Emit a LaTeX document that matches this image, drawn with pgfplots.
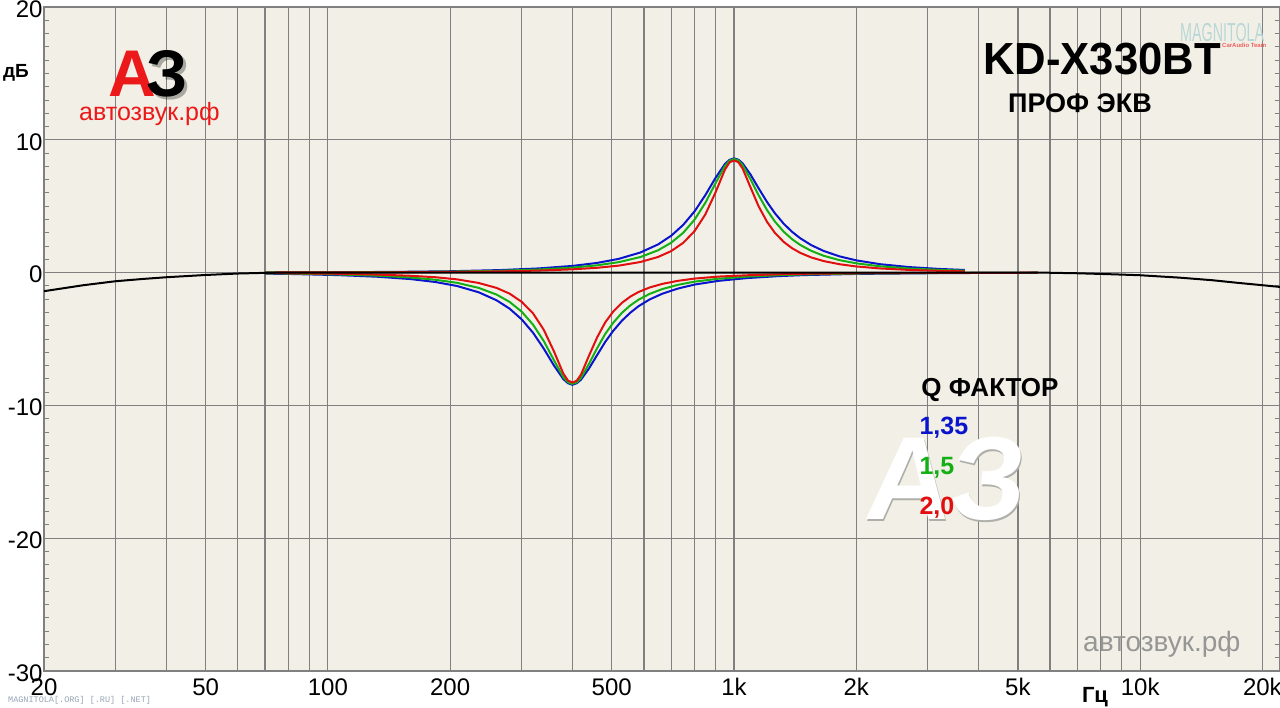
\documentclass[border=0pt]{standalone}
\usepackage{fontspec}
\setmainfont{Liberation Sans}
\newfontfamily\monofont{Liberation Mono}
\usepackage{graphicx}
\usepackage{pgfplots}
\pgfplotsset{compat=1.18}
\definecolor{bgbeige}{RGB}{242,240,230}
\definecolor{gridgray}{RGB}{128,128,128}
\definecolor{cblue}{RGB}{10,20,205}
\definecolor{cgreen}{RGB}{20,175,20}
\definecolor{cred}{RGB}{225,15,15}
\definecolor{logored}{RGB}{235,25,25}
\definecolor{wmgray}{RGB}{150,150,150}
\definecolor{wmshadow}{RGB}{175,175,170}
\definecolor{tinygray}{RGB}{150,165,180}
\definecolor{magteal}{RGB}{185,215,215}
\begin{document}
\begin{tikzpicture}[x=1pt,y=1pt]
\useasboundingbox (0,0) rectangle (1280,708);
\fill[white] (0,0) rectangle (1280,708);
\begin{axis}[at={(44pt,37pt)}, anchor=south west, scale only axis,
  width=1236pt, height=664pt,
  xmode=log, xmin=20, xmax=22100, ymin=-30, ymax=20,
  axis background/.style={fill=bgbeige},
  axis line style={gridgray, line width=1.2pt},
  xtick={20,50,100,200,500,1000,2000,5000,10000,20000},
  xticklabels={20,50,100,200,500,1k,2k,5k,10k,20k},
  minor xtick={30,40,60,70,80,90,300,400,600,700,800,900,3000,4000,6000,7000,8000,9000},
  ytick={-30,-20,-10,0,10,20},
  yticklabels={-30,-20,-10,0,10,20},
  minor ytick={-29,-28,...,19},
  xmajorgrids, xminorgrids, ymajorgrids,
  grid style={gridgray, line width=1.2pt},
  minor grid style={gridgray, line width=1.2pt},
  tick style={gridgray, line width=0.9pt},
  major tick length=5pt, minor tick length=5pt,
  tick label style={font=\fontsize{24}{24}\selectfont},
  xticklabel style={yshift=-4pt},
  yticklabel style={yshift=-2pt, xshift=2pt},
  clip=true,
]
\addplot[cblue, line width=2pt] coordinates {(70,0.012)(100,0.024)(150,0.056)(200,0.102)(265,0.189)(330,0.313)(400,0.503)(460,0.728)(520,1.033)(588,1.512)(650,2.12)(700,2.769)(750,3.596)(800,4.623)(850,5.835)(900,7.122)(950,8.184)(975,8.495)(1000,8.6)(1025,8.50)(1050,8.222)(1098,7.383)(1150,6.342)(1206,5.312)(1260,4.481)(1325,3.684)(1390,3.068)(1456,2.583)(1550,2.065)(1664,1.624)(1820,1.220)(2000,0.921)(2290,0.632)(2700,0.415)(3200,0.276)(3700,0.197)};
\addplot[cgreen, line width=2pt] coordinates {(70,0.009)(100,0.018)(150,0.041)(200,0.075)(265,0.139)(330,0.232)(400,0.375)(460,0.547)(520,0.786)(588,1.171)(650,1.679)(700,2.246)(750,3.002)(800,3.997)(850,5.259)(900,6.718)(950,8.044)(975,8.43)(1000,8.55)(1025,8.44)(1050,8.093)(1098,7.033)(1150,5.816)(1206,4.702)(1260,3.856)(1325,3.084)(1390,2.514)(1456,2.080)(1550,1.633)(1664,1.263)(1820,0.935)(2000,0.698)(2290,0.473)(2700,0.308)(3200,0.203)(3700,0.145)};
\addplot[cred, line width=2pt] coordinates {(70,0.006)(100,0.011)(150,0.026)(200,0.048)(265,0.090)(330,0.150)(400,0.245)(460,0.361)(520,0.524)(588,0.797)(650,1.175)(700,1.616)(750,2.243)(800,3.135)(850,4.385)(900,6.026)(950,7.767)(975,8.30)(1000,8.45)(1025,8.31)(1050,7.838)(1098,6.414)(1150,4.985)(1206,3.816)(1260,3.003)(1325,2.314)(1390,1.834)(1456,1.485)(1550,1.139)(1664,0.865)(1820,0.629)(2000,0.463)(2290,0.311)(2700,0.200)(3200,0.132)(3700,0.094)};
\addplot[cblue, line width=2pt] coordinates {(70,-0.08)(80,-0.10)(106,-0.19)(132,-0.31)(160,-0.49)(184,-0.71)(208,-1.01)(235,-1.48)(260,-2.08)(280,-2.71)(300,-3.52)(320,-4.53)(340,-5.72)(360,-6.98)(380,-8.02)(390,-8.33)(400,-8.45)(410,-8.33)(420,-8.06)(439,-7.24)(460,-6.22)(482,-5.21)(504,-4.39)(530,-3.61)(556,-3.01)(582,-2.53)(620,-2.02)(666,-1.59)(728,-1.20)(800,-0.90)(916,-0.62)(1080,-0.41)(1280,-0.27)(1480,-0.19)(2000,-0.10)(3200,-0.04)(5600,-0.01)};
\addplot[cgreen, line width=2pt] coordinates {(70,-0.06)(80,-0.07)(106,-0.14)(132,-0.23)(160,-0.37)(184,-0.54)(208,-0.77)(235,-1.15)(260,-1.65)(280,-2.20)(300,-2.94)(320,-3.92)(340,-5.15)(360,-6.58)(380,-7.88)(390,-8.26)(400,-8.38)(410,-8.27)(420,-7.93)(439,-6.89)(460,-5.70)(482,-4.61)(504,-3.78)(530,-3.02)(556,-2.46)(582,-2.04)(620,-1.60)(666,-1.24)(728,-0.92)(800,-0.68)(916,-0.46)(1080,-0.30)(1280,-0.20)(1480,-0.14)(2000,-0.07)(3200,-0.03)(5600,-0.01)};
\addplot[cred, line width=2pt] coordinates {(70,-0.04)(80,-0.05)(106,-0.09)(132,-0.15)(160,-0.24)(184,-0.35)(208,-0.51)(235,-0.78)(260,-1.15)(280,-1.58)(300,-2.20)(320,-3.07)(340,-4.30)(360,-5.91)(380,-7.61)(390,-8.13)(400,-8.28)(410,-8.14)(420,-7.68)(439,-6.29)(460,-4.89)(482,-3.74)(504,-2.94)(530,-2.27)(556,-1.80)(582,-1.46)(620,-1.12)(666,-0.85)(728,-0.62)(800,-0.45)(916,-0.30)(1080,-0.20)(1280,-0.13)(1480,-0.09)(2000,-0.05)(3200,-0.02)(5600,-0.01)};
\addplot[black, line width=2pt] coordinates {(20,-1.40)(25,-0.95)(30,-0.65)(35,-0.48)(40,-0.35)(50,-0.18)(60,-0.07)(70,-0.02)(80,0)(1000,0)(5700,0)(7000,-0.05)(8600,-0.13)(10000,-0.20)(12500,-0.38)(15000,-0.57)(17500,-0.78)(20000,-0.95)(22100,-1.08)};
\end{axis}
% axis unit labels
\node[anchor=base, font=\bfseries\fontsize{19}{19}\selectfont] at (16,630) {дБ};
\node[anchor=base, font=\bfseries\fontsize{22}{22}\selectfont] at (1095,5) {Гц};
% titles
\node[anchor=base, font=\bfseries\fontsize{45}{45}\selectfont] at (1102,633) {\scalebox{0.97}[1]{KD-X330BT}};
\node[anchor=base, font=\bfseries\fontsize{27}{27}\selectfont] at (1080,595) {ПРОФ ЭКВ};
% legend-like labels
\node[anchor=base, font=\bfseries\fontsize{26}{26}\selectfont] at (990,311) {Q ФАКТОР};
% watermark A3
\node[anchor=base west, font=\bfseries\fontsize{118}{118}\selectfont, text=wmshadow, xslant=0.1, transform shape] at (861.2,186.8) {АЗ};
\node[anchor=base west, font=\bfseries\fontsize{118}{118}\selectfont, text=white, xslant=0.1, transform shape] at (860,188) {АЗ};
\node[anchor=base west, font=\bfseries\fontsize{25}{25}\selectfont, text=cblue] at (916,273) {1,35};
\node[anchor=base west, font=\bfseries\fontsize{25}{25}\selectfont, text=cgreen] at (916,233) {1,5};
\node[anchor=base west, font=\bfseries\fontsize{25}{25}\selectfont, text=cred] at (916,193) {2,0};
% logo top-left
\node[anchor=base west, inner sep=0, font=\bfseries\fontsize{66}{66}\selectfont, text=black, opacity=0.3] at (149,608) {З};
\node[anchor=base west, inner sep=0, font=\bfseries\fontsize{66}{66}\selectfont, text=logored] at (108,611) {А};
\node[anchor=base west, inner sep=0, font=\bfseries\fontsize{66}{66}\selectfont, text=black] at (146,611) {З};
\node[anchor=base west, inner sep=0, font=\fontsize{25}{25}\selectfont, text=logored] at (79,587) {автозвук.рф};
% bottom right watermark text
\node[anchor=base west, inner sep=0, font=\fontsize{28}{28}\selectfont, text=wmgray] at (1083,56) {автозвук.рф};
% tiny bottom-left text
\node[anchor=base west, inner sep=0, font=\monofont\fontsize{8.5}{8.5}\selectfont, text=tinygray] at (8,5) {MAGNITOLA[.ORG] [.RU] [.NET]};
% MAGNITOLA logo top-right
\node[anchor=base west, inner sep=0, font=\fontsize{26}{26}\selectfont, text=magteal] at (1180,666) {\scalebox{0.55}[1]{MAGNITOLA}};
\node[anchor=base west, inner sep=0, font=\bfseries\fontsize{6}{6}\selectfont, text=logored!70] at (1222,660) {CarAudio Team};
\end{tikzpicture}
\end{document}
